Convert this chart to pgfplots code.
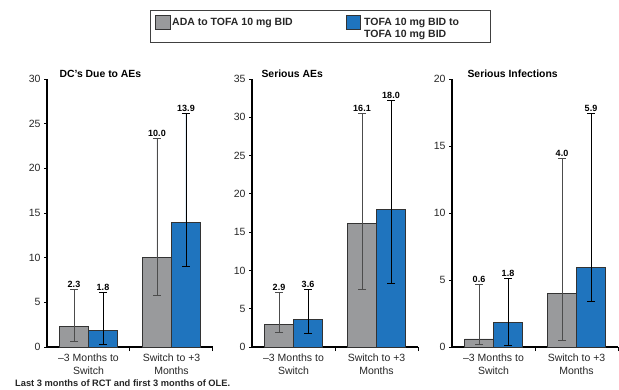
\documentclass[border=0pt]{standalone}
\usepackage{pgfplots}
\usepackage{pgfplotstable}
\pgfplotsset{compat=1.18}
\usepackage{fontspec}
\setmainfont{Liberation Sans}
\definecolor{bargray}{HTML}{999A9C}
\definecolor{barblue}{HTML}{1F74BE}
\definecolor{edge}{HTML}{333333}

\pgfplotstableread{
x g gt gb b bt bb
0 2.3 6.46 0.67 1.8 6.08 0.30
1 10.0 23.4 5.8 13.9 26.2 9.0
}\dataA
\pgfplotstableread{
x g gt gb b bt bb
0 2.9 7.1 1.9 3.6 7.5 1.8
1 16.1 30.5 7.5 18.0 32.2 8.3
}\dataB
\pgfplotstableread{
x g gt gb b bt bb
0 0.6 4.68 0.22 1.8 5.13 0.10
1 4.0 14.08 0.52 5.9 17.44 3.43
}\dataC

\pgfplotsset{
  panel/.style={
    scale only axis, width=166pt, height=268pt,
    anchor=south west,
    xmin=-0.5, xmax=1.5, ymin=0,
    axis lines*=left,
    axis line style={black, line width=1.1pt},
    clip=false,
    tick align=outside,
    xtick={0,1},
    xticklabels={{–3 Months to\\Switch},{Switch to +3\\Months}},
    x tick label style={align=center, font=\fontsize{10.5}{13}\selectfont, text=black!85},
    major x tick style={draw=none},
    minor xtick={0.5,1.5},
    minor x tick style={black, line width=1pt},
    minor tick length=4pt,
    major tick length=3pt,
    major y tick style={black, line width=0.8pt},
    y tick label style={font=\fontsize{10.5}{12}\selectfont, text=black!85},
    /pgf/number format/assume math mode=true,
    ytick distance=5,
  },
  gbar/.style={ybar, bar width=29pt, bar shift=0pt, fill=bargray, draw=edge, line width=0.9pt,
    error bars/.cd, y dir=both, y explicit,
    error bar style={line width=0.8pt, draw=black!70},
    error mark options={rotate=90, mark size=4pt, line width=0.8pt, draw=black!70}},
  bbar/.style={ybar, bar width=29pt, bar shift=0pt, fill=barblue, draw=edge, line width=0.9pt,
    error bars/.cd, y dir=both, y explicit,
    error bar style={line width=0.8pt, draw=black},
    error mark options={rotate=90, mark size=4pt, line width=0.8pt, draw=black}},
  vlab/.style={draw=none, mark=none,
    nodes near coords={\pgfmathprintnumber[fixed,fixed zerofill,precision=1]{\pgfplotspointmeta}},
    point meta=explicit,
    nodes near coords style={anchor=south, font=\bfseries\fontsize{9}{10}\selectfont, text=black, inner sep=1.5pt}},
}

\newcommand{\panelplots}[1]{%
  \addplot[gbar] table[x expr=\thisrow{x}-0.1747, y=g, y error plus expr=\thisrow{gt}-\thisrow{g}, y error minus expr=\thisrow{g}-\thisrow{gb}] {#1};
  \addplot[bbar] table[x expr=\thisrow{x}+0.1747, y=b, y error plus expr=\thisrow{bt}-\thisrow{b}, y error minus expr=\thisrow{b}-\thisrow{bb}] {#1};
  \addplot[vlab] table[x expr=\thisrow{x}-0.1747, y=gt, meta=g] {#1};
  \addplot[vlab] table[x expr=\thisrow{x}+0.1747, y=bt, meta=b] {#1};
}

\begin{document}
\begin{tikzpicture}
\useasboundingbox (0pt,0pt) rectangle (619pt,389pt);

\begin{axis}[panel, at={(47pt,42pt)}, ymax=30]
  \panelplots{\dataA}
  \node[anchor=base west, font=\bfseries\fontsize{10.4}{12}\selectfont, xshift=9pt, yshift=1.3pt] at (rel axis cs:0,1) {DC’s Due to AEs};
\end{axis}

\begin{axis}[panel, at={(252pt,42pt)}, ymax=35]
  \panelplots{\dataB}
  \node[anchor=base west, font=\bfseries\fontsize{10.4}{12}\selectfont, xshift=6pt, yshift=1.3pt] at (rel axis cs:0,1) {Serious AEs};
\end{axis}

\begin{axis}[panel, at={(452pt,42pt)}, ymax=20]
  \panelplots{\dataC}
  \node[anchor=base west, font=\bfseries\fontsize{10.4}{12}\selectfont, xshift=12pt, yshift=1.3pt] at (rel axis cs:0,1) {Serious Infections};
\end{axis}

% legend
\draw[black!75, line width=1pt] (150.7pt,346.7pt) rectangle (490pt,378.3pt);
\draw[edge, line width=0.9pt, fill=bargray] (155.7pt,359.7pt) rectangle (170.3pt,374pt);
\node[anchor=base west, inner sep=0pt, font=\bfseries\fontsize{10.5}{12}\selectfont, text=black!85] at (172pt,363.7pt) {ADA to TOFA 10 mg BID};
\draw[edge, line width=0.9pt, fill=barblue] (346pt,359.7pt) rectangle (360.7pt,374pt);
\node[anchor=base west, inner sep=0pt, font=\bfseries\fontsize{10.5}{12}\selectfont, text=black!85] at (364pt,363.7pt) {TOFA 10 mg BID to};
\node[anchor=base west, inner sep=0pt, font=\bfseries\fontsize{10.5}{12}\selectfont, text=black!85] at (364pt,351.7pt) {TOFA 10 mg BID};

% footnote
\node[anchor=west, inner sep=0pt, font=\bfseries\fontsize{9.3}{11}\selectfont, text=black!85] at (15pt,6.3pt) {Last 3 months of RCT and first 3 months of OLE.};
\end{tikzpicture}
\end{document}
